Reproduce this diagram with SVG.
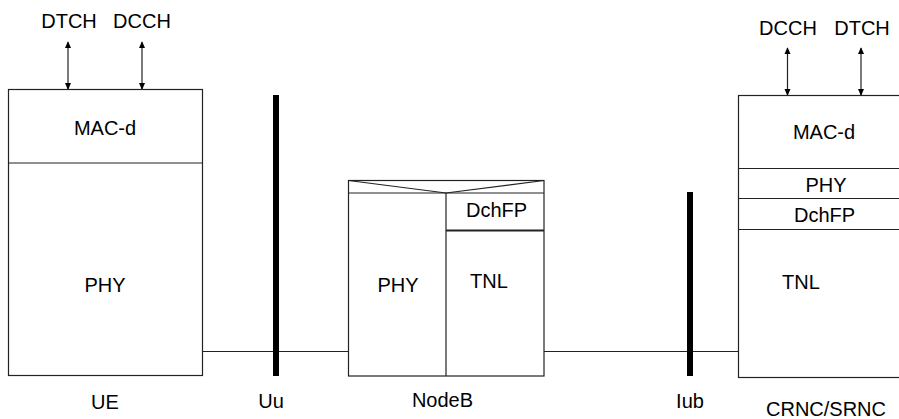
<svg xmlns="http://www.w3.org/2000/svg" width="899" height="419" viewBox="0 0 899 419">
<defs>
<style>
.box{fill:#fff;stroke:#222;stroke-width:1.2}
.ln{stroke:#222;stroke-width:1.2;fill:none}
.bar{fill:#000}
text{font-family:"Liberation Sans",Arial,sans-serif;font-size:20px;fill:#000;text-anchor:middle}
</style>
<marker id="ah" viewBox="0 0 8 8" refX="7" refY="4" markerWidth="7" markerHeight="7" markerUnits="userSpaceOnUse" orient="auto-start-reverse">
<path d="M0,0.5 L8,4 L0,7.5 Z" fill="#000"/>
</marker>
</defs>
<g id="connectors">
<line class="ln" x1="202.5" y1="351.5" x2="348.5" y2="351.5"/>
<line class="ln" x1="544" y1="351.5" x2="738.5" y2="351.5"/>
<line class="ln" x1="68" y1="42" x2="68" y2="89" marker-start="url(#ah)" marker-end="url(#ah)"/>
<line class="ln" x1="142" y1="42" x2="142" y2="89" marker-start="url(#ah)" marker-end="url(#ah)"/>
<line class="ln" x1="787.5" y1="48" x2="787.5" y2="95" marker-start="url(#ah)" marker-end="url(#ah)"/>
<line class="ln" x1="861" y1="48" x2="861" y2="95" marker-start="url(#ah)" marker-end="url(#ah)"/>
</g>
<g id="UE">
<rect class="box" x="8.5" y="89.5" width="194" height="286"/>
<line class="ln" x1="8.5" y1="163" x2="202.5" y2="163"/>
<text x="105" y="135">MAC-d</text>
<text x="105" y="292">PHY</text>
<text x="105" y="409">UE</text>
</g>
<g id="Uu">
<rect class="bar" x="273" y="95" width="6" height="281"/>
<text x="271" y="408">Uu</text>
</g>
<g id="NodeB">
<rect class="box" x="348.5" y="180.5" width="195.5" height="195.5"/>
<line class="ln" x1="348.5" y1="193" x2="544" y2="193"/>
<polyline class="ln" points="348.5,180.5 446,193 544,180.5"/>
<line class="ln" x1="446" y1="193" x2="446" y2="376"/>
<line class="ln" x1="446" y1="230.5" x2="544" y2="230.5" style="stroke-width:2"/>
<text x="496.5" y="217">DchFP</text>
<text x="398" y="292">PHY</text>
<text x="489" y="288">TNL</text>
<text x="442.5" y="407">NodeB</text>
</g>
<g id="Iub">
<rect class="bar" x="687" y="192" width="6" height="184"/>
<text x="690" y="408">Iub</text>
</g>
<g id="CRNC">
<rect class="box" x="738.5" y="95.5" width="165" height="282"/>
<line class="ln" x1="738.5" y1="168.5" x2="899" y2="168.5"/>
<line class="ln" x1="738.5" y1="198.5" x2="899" y2="198.5"/>
<line class="ln" x1="738.5" y1="229.5" x2="899" y2="229.5"/>
<text x="824" y="139">MAC-d</text>
<text x="826" y="192">PHY</text>
<text x="824.5" y="222">DchFP</text>
<text x="801" y="289">TNL</text>
<text x="826" y="416">CRNC/SRNC</text>
</g>
<g id="labels">
<text x="69" y="28">DTCH</text>
<text x="142" y="28">DCCH</text>
<text x="788" y="35">DCCH</text>
<text x="862" y="35">DTCH</text>
</g>
</svg>
